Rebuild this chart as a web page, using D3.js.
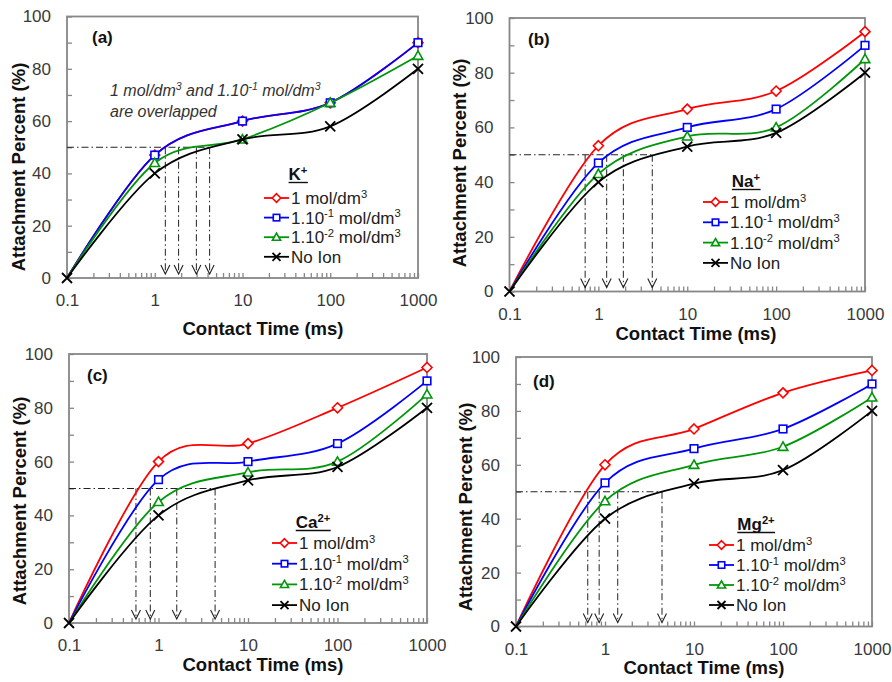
<!DOCTYPE html>
<html>
<head>
<meta charset="utf-8">
<script src="https://cdn.jsdelivr.net/npm/d3@7/dist/d3.min.js"></script>
<style>
  body { margin: 0; background: #fff; }
  svg { display: block; font-family: Arial, "Liberation Sans", sans-serif; }
</style>
</head>
<body>
<svg id="chart" width="892" height="682"></svg>
<script>
// Contact times (ms) shared by every panel
const contactTimes = [0.1, 1, 10, 100, 1000];
const xTickLabels = ["0.1", "1", "10", "100", "1000"];
const yTickLabels = [0, 20, 40, 60, 80, 100];

// Series labels: even pieces are normal text, odd pieces are superscripts
const seriesLabels = [
  ["1 mol/dm", "3"],
  ["1.10", "-1", " mol/dm", "3"],
  ["1.10", "-2", " mol/dm", "3"],
  ["No Ion"]
];
const seriesColors = ["#ff0000", "#0000ff", "#00960a", "#000000"];
const seriesMarkers = ["diamond", "square", "triangle", "cross"];

const panelLetters = ["(a)", "(b)", "(c)", "(d)"];
const ionNames = [["K", "+"], ["Na", "+"], ["Ca", "2+"], ["Mg", "2+"]];

// Attachment percent (%) per ion: rows = 1, 0.1, 0.01 mol/dm3, no ion
const potassium = [
  [0, 47, 60, 67, 90],
  [0, 47, 60, 67, 90],
  [0, 44, 53, 67, 85],
  [0, 40, 53, 58, 80]
];
const sodium = [
  [0, 53.3, 66.7, 73.3, 95],
  [0, 47, 60, 66.7, 90],
  [0, 43, 56.7, 60, 85],
  [0, 40, 53, 58, 80]
];
const calcium = [
  [0, 60, 66.7, 80, 95],
  [0, 53.3, 60, 66.7, 90],
  [0, 45, 56, 60, 85],
  [0, 40, 53, 58, 80]
];
const magnesium = [
  [0, 60, 73.3, 86.7, 95],
  [0, 53.3, 66, 73.3, 90],
  [0, 46.5, 60, 66.7, 85],
  [0, 40, 53, 58, 80]
];

// Contact times (ms) at which 50 % attachment is reached
const halfTimesK = [1.32, 1.87, 2.98, 4.22];
const halfTimesNa = [0.71, 1.24, 1.91, 4.04];
const halfTimesCa = [0.56, 0.81, 1.60, 4.29];
const halfTimesMg = [0.64, 0.86, 1.39, 4.37];
const halfLevel = 50;

const panelData = [potassium, sodium, calcium, magnesium];
const panelHalfTimes = [halfTimesK, halfTimesNa, halfTimesCa, halfTimesMg];

// Geometry of each panel
const panelLayout = [
  { left: 67, right: 418, top: 16.5, bottom: 278, label: [92, 43], yTitle: [19, 167], xTitle: [263, 335],
    legend: { x: 264, y: 198, step: 19.6, title: [298, 180] } },
  { left: 509.5, right: 865, top: 18, bottom: 291.5, label: [528, 45], yTitle: [460, 163], xTitle: [696, 340],
    legend: { x: 703, y: 202, step: 20.3, title: [746, 187] } },
  { left: 69, right: 427, top: 354, bottom: 623, label: [87, 381], yTitle: [20, 501], xTitle: [263, 671],
    legend: { x: 272, y: 543, step: 20.7, title: [313, 528] } },
  { left: 516, right: 872, top: 357, bottom: 626.5, label: [533, 387], yTitle: [466, 507], xTitle: [704, 674],
    legend: { x: 709, y: 545, step: 20, title: [756, 530] } }
];

const svg = d3.select("#chart");
svg.append("rect").attr("width", 892).attr("height", 682).attr("fill", "#fff");

const axisGrey = "#878787";
const tickText = "#3a3a3a";

// Write text made of alternating normal / superscript pieces
function richText(sel, pieces, size) {
  let raised = false;
  pieces.forEach((p, i) => {
    const sup = i % 2 === 1;
    const t = sel.append("tspan").text(p);
    if (sup) {
      t.attr("font-size", size * 0.66).attr("dy", -size * 0.38);
      raised = true;
    } else {
      t.attr("font-size", size);
      if (raised) { t.attr("dy", size * 0.38); raised = false; }
    }
  });
}

function drawMarker(g, type, cx, cy, color, s) {
  if (type === "diamond") {
    const r = s * 1.25;
    g.append("path").attr("d", `M${cx},${cy - r}L${cx + r},${cy}L${cx},${cy + r}L${cx - r},${cy}Z`)
      .attr("fill", "#fff").attr("stroke", color).attr("stroke-width", 1.6);
  } else if (type === "square") {
    const r = s * 0.95;
    g.append("rect").attr("x", cx - r).attr("y", cy - r).attr("width", 2 * r).attr("height", 2 * r)
      .attr("fill", "#fff").attr("stroke", color).attr("stroke-width", 1.6);
  } else if (type === "triangle") {
    const r = s * 1.2;
    g.append("path").attr("d", `M${cx},${cy - r}L${cx + r},${cy + r * 0.75}L${cx - r},${cy + r * 0.75}Z`)
      .attr("fill", "#fff").attr("stroke", color).attr("stroke-width", 1.6);
  } else {
    const r = s * 1.25;
    g.append("path").attr("d", `M${cx - r},${cy - r}L${cx + r},${cy + r}M${cx - r},${cy + r}L${cx + r},${cy - r}`)
      .attr("fill", "none").attr("stroke", color).attr("stroke-width", 1.8);
  }
}

panelLayout.forEach((L, pi) => {
  const g = svg.append("g");
  const x = d3.scaleLog().domain([0.1, 1000]).range([L.left, L.right]);
  const y = d3.scaleLinear().domain([0, 100]).range([L.bottom, L.top]);

  // Y axis: ticks every 10 pointing inward, labels every 20
  const yAxis = d3.axisLeft(y)
    .tickValues(d3.range(0, 101, 10))
    .tickSize(-5)
    .tickPadding(16)
    .tickFormat(d => yTickLabels.includes(d) ? String(d) : "");
  const ya = g.append("g").attr("transform", `translate(${L.left},0)`).call(yAxis);

  // X axis: log ticks pointing inward, labels at decades
  const logTicks = [];
  contactTimes.forEach((d, i) => {
    if (i < contactTimes.length - 1) for (let k = 1; k <= 9; k++) logTicks.push(+(d * k).toPrecision(3));
    else logTicks.push(d);
  });
  const xAxis = d3.axisBottom(x)
    .tickValues(logTicks)
    .tickSize(-5)
    .tickPadding(16)
    .tickFormat(d => {
      const i = contactTimes.findIndex(c => Math.abs(c - d) < 1e-9);
      return i >= 0 ? xTickLabels[i] : "";
    });
  const xa = g.append("g").attr("transform", `translate(0,${L.bottom})`).call(xAxis);

  [ya, xa].forEach(a => {
    a.select(".domain").remove();
    a.selectAll(".tick line").attr("stroke", axisGrey).attr("stroke-width", 1.3);
    a.selectAll(".tick text").attr("fill", tickText).attr("font-size", 17)
      .attr("font-family", 'Arial, "Liberation Sans", sans-serif');
  });

  // Plot frame
  g.append("rect").attr("x", L.left).attr("y", L.top)
    .attr("width", L.right - L.left).attr("height", L.bottom - L.top)
    .attr("fill", "none").attr("stroke", axisGrey).attr("stroke-width", 1.8);

  // 50 % guide lines with arrows down to the time axis
  const halfTimes = panelHalfTimes[pi];
  const dashDot = "7,3,1.5,3";
  const yHalf = y(halfLevel);
  g.append("line").attr("x1", L.left).attr("x2", x(d3.max(halfTimes)))
    .attr("y1", yHalf).attr("y2", yHalf)
    .attr("stroke", "#222").attr("stroke-width", 1).attr("stroke-dasharray", dashDot);
  halfTimes.forEach(t => {
    const xp = x(t);
    const tip = L.bottom - 4;
    g.append("line").attr("x1", xp).attr("x2", xp).attr("y1", yHalf).attr("y2", tip)
      .attr("stroke", "#222").attr("stroke-width", 1).attr("stroke-dasharray", dashDot);
    g.append("path").attr("d", `M${xp - 4.5},${tip - 9}L${xp},${tip}L${xp + 4.5},${tip - 9}`)
      .attr("fill", "none").attr("stroke", "#222").attr("stroke-width", 1.1);
  });

  // Smoothed series lines
  const line = d3.line()
    .x(d => x(d[0]))
    .y(d => y(d[1]))
    .curve(d3.curveCatmullRom.alpha(0));
  const data = panelData[pi];
  data.forEach((vals, si) => {
    const pts = contactTimes.map((t, i) => [t, vals[i]]);
    g.append("path").attr("d", line(pts))
      .attr("fill", "none").attr("stroke", seriesColors[si]).attr("stroke-width", 1.8);
    pts.forEach(p => {
      if (p[1] === 0 && seriesMarkers[si] !== "cross") return;
      drawMarker(g, seriesMarkers[si], x(p[0]), y(p[1]), seriesColors[si], 4);
    });
  });

  // Panel letter
  g.append("text").attr("x", L.label[0]).attr("y", L.label[1])
    .attr("font-size", 17).attr("font-weight", "bold").attr("fill", "#111").text(panelLetters[pi]);

  // Axis titles
  g.append("text").attr("x", L.xTitle[0]).attr("y", L.xTitle[1]).attr("text-anchor", "middle")
    .attr("font-size", 18.5).attr("font-weight", "bold").attr("fill", "#111").text("Contact Time (ms)");
  g.append("text").attr("transform", `translate(${L.yTitle[0]},${L.yTitle[1]}) rotate(-90)`)
    .attr("text-anchor", "middle").attr("dy", "0.35em")
    .attr("font-size", 18.5).attr("font-weight", "bold").attr("fill", "#111").text("Attachment Percent (%)");

  // Legend
  const lg = g.append("g");
  const title = lg.append("text").attr("x", L.legend.title[0]).attr("y", L.legend.title[1])
    .attr("text-anchor", "middle").attr("font-weight", "bold").attr("fill", "#111");
  richText(title, ionNames[pi], 17);
  const bb = title.node().getBBox();
  lg.append("line").attr("x1", bb.x).attr("x2", bb.x + bb.width)
    .attr("y1", L.legend.title[1] + 2.5).attr("y2", L.legend.title[1] + 2.5)
    .attr("stroke", "#111").attr("stroke-width", 1.4);

  seriesLabels.forEach((lab, si) => {
    const cy = L.legend.y + si * L.legend.step;
    const x0 = L.legend.x;
    lg.append("line").attr("x1", x0).attr("x2", x0 + 25).attr("y1", cy).attr("y2", cy)
      .attr("stroke", seriesColors[si]).attr("stroke-width", 1.8);
    drawMarker(lg, seriesMarkers[si], x0 + 12.5, cy, seriesColors[si], si === 3 ? 3.2 : 3.4);
    const t = lg.append("text").attr("x", x0 + 27).attr("y", cy + 6).attr("fill", "#222");
    richText(t, lab, 17);
  });

  // Note on overlapping series in the K+ panel
  if (pi === 0) {
    const n1 = g.append("text").attr("x", 110).attr("y", 96).attr("font-style", "italic").attr("fill", "#333");
    richText(n1, ["1 mol/dm", "3", " and 1.10", "-1", " mol/dm", "3"], 16);
    g.append("text").attr("x", 110).attr("y", 117).attr("font-style", "italic").attr("fill", "#333")
      .attr("font-size", 16).text("are overlapped");
  }
});
</script>
</body>
</html>
